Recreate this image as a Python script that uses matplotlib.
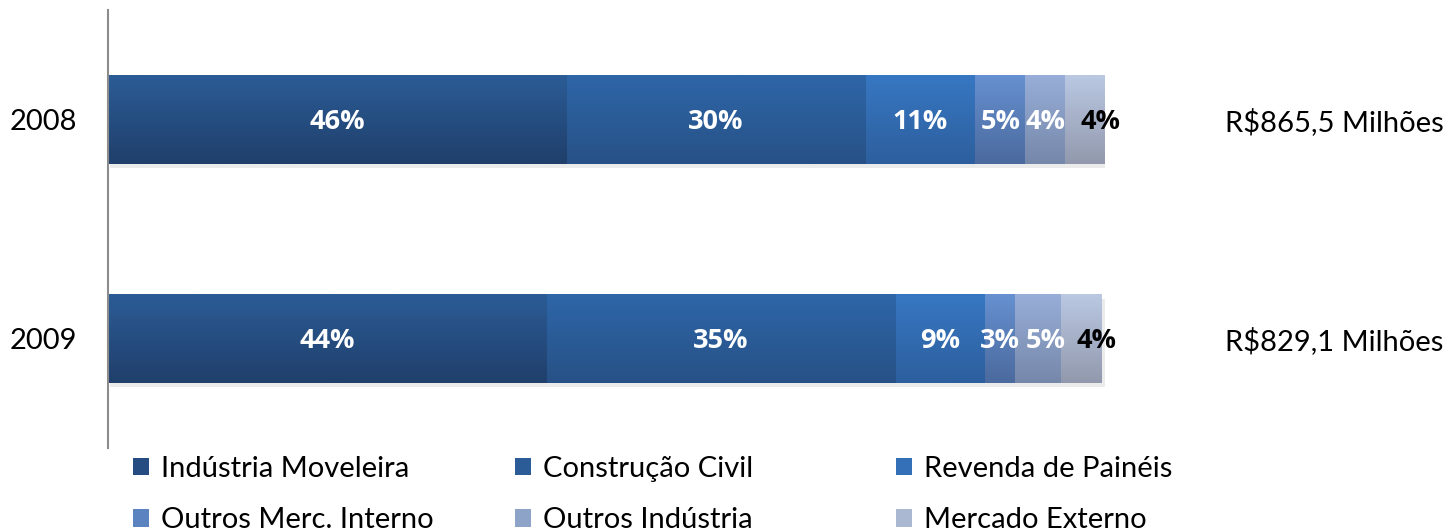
import numpy as np
import matplotlib.pyplot as plt
from matplotlib.patches import Patch

plt.rcParams['font.family'] = ['Lato', 'DejaVu Sans']

years = ["2008", "2009"]
totals = ["R$865,5 Milhões", "R$829,1 Milhões"]
segments = ["Indústria Moveleira", "Construção Civil", "Revenda de Painéis",
            "Outros Merc. Interno", "Outros Indústria", "Mercado Externo"]
shares_2008 = [46, 30, 11, 5, 4, 4]
shares_2009 = [44, 35, 9, 3, 4.6, 4.1]
labels_2008 = ["46%", "30%", "11%", "5%", "4%", "4%"]
labels_2009 = ["44%", "35%", "9%", "3%", "5%", "4%"]

# top / bottom colours of the gradient fill of each segment
top_cols = ["#2b5c96", "#2e66a8", "#3777c2", "#6690d0", "#98aed8", "#bac8e2"]
bot_cols = ["#203f6b", "#275186", "#2d5f9e", "#4b6a9e", "#7688aa", "#9299ad"]
mid_cols = ["#254d82", "#2c5c98", "#3470b8", "#5b83c0", "#8ea3c8", "#aab8d2"]

FS = 21
BOLD = dict(family=["Open Sans", "DejaVu Sans"], fontweight="bold", fontsize=19.5)


def hex_rgb(h):
    h = h.lstrip("#")
    return np.array([int(h[i:i + 2], 16) for i in (0, 2, 4)]) / 255.0


def gradient_bar(ax, left, width, y, height, c_top, c_bot):
    t = np.linspace(0, 1, 64)[:, None]
    img = (1 - t) * hex_rgb(c_top) + t * hex_rgb(c_bot)
    img = img[:, None, :]
    # soft shadow
    ax.bar(left + width / 2 + 0.25, height, width=width, bottom=y - height / 2 + 0.02,
           color="#000000", alpha=0.08, linewidth=0, zorder=1)
    ax.imshow(img, extent=(left, left + width, y + height / 2, y - height / 2),
              aspect="auto", interpolation="bilinear", zorder=2)


fig = plt.figure(figsize=(14.47, 5.31), dpi=100)
ax = fig.add_axes([108 / 1447, 1 - 448 / 531, 997 / 1447, 438 / 531])

bar_h = 0.405
rows = []
for yi, (shares, labs) in enumerate([(shares_2008, labels_2008), (shares_2009, labels_2009)]):
    left = 0
    texts = []
    for k, (v, lab) in enumerate(zip(shares, labs)):
        gradient_bar(ax, left, v, yi, bar_h, top_cols[k], bot_cols[k])
        last = k == len(shares) - 1
        t = ax.text(left + v / 2 + (1.5 if last else 0), yi + 0.01, lab, ha="center", va="center",
                    color="black" if last else "white", zorder=3, **BOLD)
        texts.append(t)
        left += v
    rows.append(texts)
    ax.text(112, yi + 0.01, totals[yi], ha="left", va="center", fontsize=FS,
            color="black", clip_on=False)

ax.set_xlim(0, 100)
ax.set_ylim(1.5, -0.5)
ax.set_yticks([0, 1])
ax.set_yticklabels(years, fontsize=FS)
ax.tick_params(axis="y", length=0, pad=22)
ax.set_xticks([])
for s in ["top", "right", "bottom"]:
    ax.spines[s].set_visible(False)
ax.spines["left"].set_color("#8c8c8c")
ax.spines["left"].set_linewidth(1.5)

# push crowded labels to the right so they don't overlap
fig.canvas.draw()
r = fig.canvas.get_renderer()
px_per_unit = ax.transData.transform((1, 0))[0] - ax.transData.transform((0, 0))[0]
gap = 5
for texts in rows:
    prev_right = None
    for t in texts:
        bb = t.get_window_extent(r)
        if prev_right is not None and bb.x0 < prev_right + gap:
            shift = (prev_right + gap - bb.x0) / px_per_unit
            x, y = t.get_position()
            t.set_position((x + shift, y))
            bb = t.get_window_extent(r)
        prev_right = bb.x1

# legend: three columns, two rows
cols_x = [133, 515, 896]
for c in range(3):
    handles = [Patch(facecolor=mid_cols[c], edgecolor="none"),
               Patch(facecolor=mid_cols[c + 3], edgecolor="none")]
    fig.legend(handles, [segments[c], segments[c + 3]],
               loc="upper left", bbox_to_anchor=(cols_x[c] / 1447, 1 - 456 / 531),
               frameon=False, fontsize=FS, handlelength=0.55, handleheight=0.55,
               handletextpad=0.4, labelspacing=0.86, borderaxespad=0, borderpad=0)

fig.savefig("out.png", dpi=100)
